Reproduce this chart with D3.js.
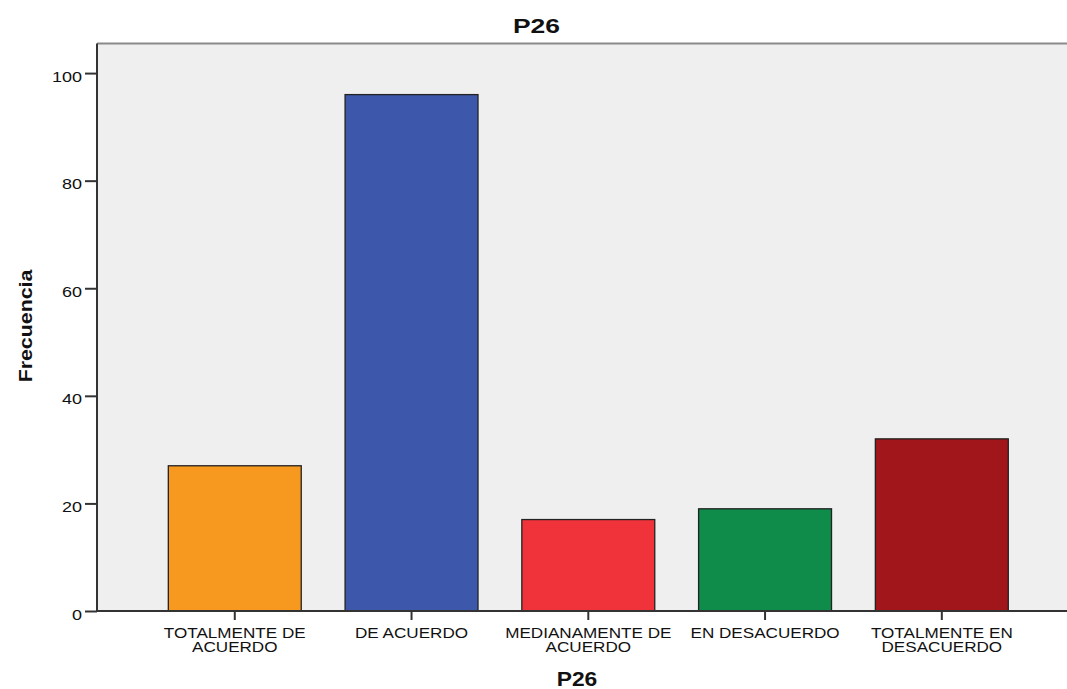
<!DOCTYPE html>
<html><head><meta charset="utf-8">
<script src="https://cdn.jsdelivr.net/npm/d3@7"></script>
<style>body{margin:0;background:#fff}svg{display:block}text{font-family:"Liberation Sans",Arial,sans-serif;fill:#111}</style>
</head><body><svg id="c" width="1067" height="689"></svg>
<script>
const categories = [["TOTALMENTE DE","ACUERDO"],["DE ACUERDO"],["MEDIANAMENTE DE","ACUERDO"],["EN DESACUERDO"],["TOTALMENTE EN","DESACUERDO"]];
const values = [27, 96, 17, 19, 32];
const colors = ["#f7991f", "#3d58aa", "#f0333b", "#0f8b4a", "#a1161b"];
const yTicks = [0, 20, 40, 60, 80, 100];
const chartTitle = "P26";
const xTitle = "P26";
const yTitle = "Frecuencia";

const svg = d3.select("#c");
const pLeft = 97, pRight = 1067, pTop = 43.5, pBottom = 611;
const keys = categories.map((c,i)=>i);
const x = d3.scaleBand().domain(keys).range([146.4, 1030.2]).paddingInner(0.248).paddingOuter(0.124);
const y = d3.scaleLinear().domain([0, 105.5]).range([pBottom, pTop]);

svg.append("rect").attr("x", pLeft).attr("y", pTop).attr("width", pRight-pLeft).attr("height", pBottom-pTop).attr("fill", "#efefef");
svg.append("line").attr("x1", pLeft).attr("x2", pRight).attr("y1", pTop).attr("y2", pTop).attr("stroke", "#8a8a8a").attr("stroke-width", 2);

svg.selectAll("rect.bar").data(values).join("rect").attr("class","bar")
  .attr("x", (d,i)=>x(i)).attr("width", x.bandwidth())
  .attr("y", d=>y(d)).attr("height", d=>pBottom - y(d))
  .attr("fill", (d,i)=>colors[i]).attr("stroke", "#222").attr("stroke-width", 1.3);

// y axis
const ya = svg.append("g").attr("transform", `translate(${pLeft},0)`)
  .call(d3.axisLeft(y).tickValues(yTicks).tickSize(12).tickPadding(3));
ya.select(".domain").attr("stroke", "#333").attr("stroke-width", 2).attr("d", `M0,${pTop}V${pBottom}`);
ya.selectAll(".tick line").attr("stroke", "#333").attr("stroke-width", 2);
ya.selectAll(".tick text").each(function(d){
  d3.select(this).attr("x", null).attr("dy", null).attr("text-anchor", "end")
   .attr("transform", `translate(-15,8) scale(1.2,1)`)
   .style("font-size","15px").style("font-family",'"Liberation Sans",Arial,sans-serif').attr("fill","#111");
});

// x axis
const xa = svg.append("g").attr("transform", `translate(0,${pBottom})`)
  .call(d3.axisBottom(x).tickSize(9).tickFormat(""));
xa.select(".domain").attr("stroke", "#333").attr("stroke-width", 2).attr("d", `M${pLeft},0H${pRight}`);
xa.selectAll(".tick line").attr("stroke", "#333").attr("stroke-width", 2);
xa.selectAll(".tick").each(function(d){
  const g = d3.select(this);
  categories[d].forEach((line, k)=>{
    g.append("text").attr("text-anchor","middle")
      .attr("transform", `translate(0,${27 + k*13.5}) scale(1.14,1)`)
      .style("font-size","15px").style("font-family",'"Liberation Sans",Arial,sans-serif').attr("fill","#111").text(line);
  });
});

// titles
svg.append("text").attr("text-anchor","middle").attr("transform","translate(536.5,33) scale(1.26,1)")
  .style("font-size","21px").style("font-weight","bold").text(chartTitle);
svg.append("text").attr("text-anchor","middle").attr("transform","translate(577,686) scale(1.17,1)")
  .style("font-size","19.5px").style("font-weight","bold").text(xTitle);
svg.append("text").attr("text-anchor","middle").attr("transform","translate(32,326) rotate(-90) scale(1.22,1)")
  .style("font-size","17.5px").style("font-weight","bold").text(yTitle);
</script></body></html>
